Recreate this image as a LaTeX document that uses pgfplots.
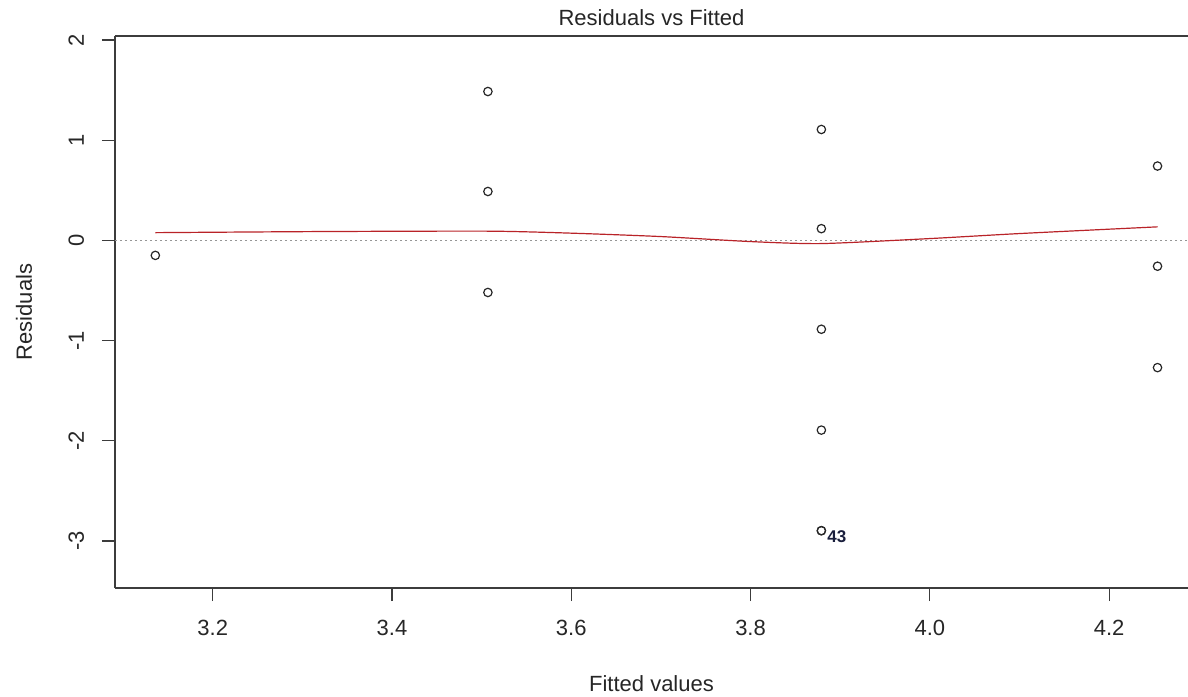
\documentclass[border=0pt]{standalone}
\usepackage{fontspec}
\setmainfont{Liberation Sans}
\usepackage{pgfplots}
\pgfplotsset{compat=1.18}
\definecolor{lowess}{RGB}{185,35,40}
\definecolor{frame}{RGB}{60,60,60}
\definecolor{zeroline}{RGB}{150,150,150}
\definecolor{lab}{RGB}{25,30,60}
\begin{document}
\begin{tikzpicture}[font=\fontsize{11}{13}\selectfont]
\begin{axis}[
  scale only axis, width=536.5pt, height=276pt,
  xmin=3.091, xmax=4.288, ymin=-3.47, ymax=2.04,
  axis x line*=box, axis y line*=left,
  axis line style={-, frame, line width=0.6pt},
  xtick={3.2,3.4,3.6,3.8,4.0,4.2},
  xticklabels={3.2,3.4,3.6,3.8,4.0,4.2},
  ytick={-3,-2,-1,0,1,2},
  yticklabels={-3,-2,-1,0,1,2},
  xtick pos=bottom, ytick pos=left,
  tick align=outside, major tick length=6.5pt,
  tick style={frame, line width=0.6pt},
  xticklabel style={anchor=base, inner sep=0pt, yshift=-17pt, text=black!85},
  yticklabel style={inner sep=0pt, anchor=base, rotate=90, yshift=9pt, text=black!85},
  title={Residuals vs Fitted},
  title style={at={(axis description cs:0.5,1)}, anchor=base, yshift=-0.5pt, inner sep=0pt, text=black!85},
  xlabel={Fitted values},
  xlabel style={at={(axis description cs:0.5,0)}, anchor=base, yshift=-51.5pt, inner sep=0pt, text=black!85},
  ylabel={Residuals},
  ylabel style={at={(axis description cs:0,0.5)}, anchor=base, yshift=41.5pt, inner sep=0pt, text=black!85},
  clip=false,
]
% zero reference line
\addplot[zeroline, dash pattern=on 1.2pt off 1.3pt, line width=0.45pt] coordinates {(3.091,0) (4.288,0)};
% lowess smoother
\addplot[lowess, line width=0.6pt, smooth, tension=0.4] coordinates {
  (3.136,0.077) (3.32,0.088) (3.507,0.092) (3.60,0.072) (3.70,0.038)
  (3.80,-0.012) (3.879,-0.032) (4.00,0.018) (4.10,0.068) (4.254,0.135)
};
% residuals
\addplot[only marks, mark=o, mark size=2.1pt, mark options={line width=0.6pt, black!85}] coordinates {
  (3.136,-0.15)
  (3.507,1.486) (3.507,0.488) (3.507,-0.52)
  (3.879,1.107) (3.879,0.117) (3.879,-0.887) (3.879,-1.894) (3.879,-2.898) (3.879,-2.898)
  (4.254,0.742) (4.254,-0.258) (4.254,-1.27)
};
\node[anchor=west, inner sep=0pt, font=\fontsize{8.5}{10}\selectfont\bfseries, text=lab, xshift=2.8pt, yshift=-2.9pt] at (axis cs:3.879,-2.898) {43};
\coordinate (bl) at (rel axis cs:0,0);
\end{axis}
\pgfresetboundingbox
\path (bl) ++(-57.5pt,-54pt) rectangle ++(594pt,348pt);
\end{tikzpicture}
\end{document}
